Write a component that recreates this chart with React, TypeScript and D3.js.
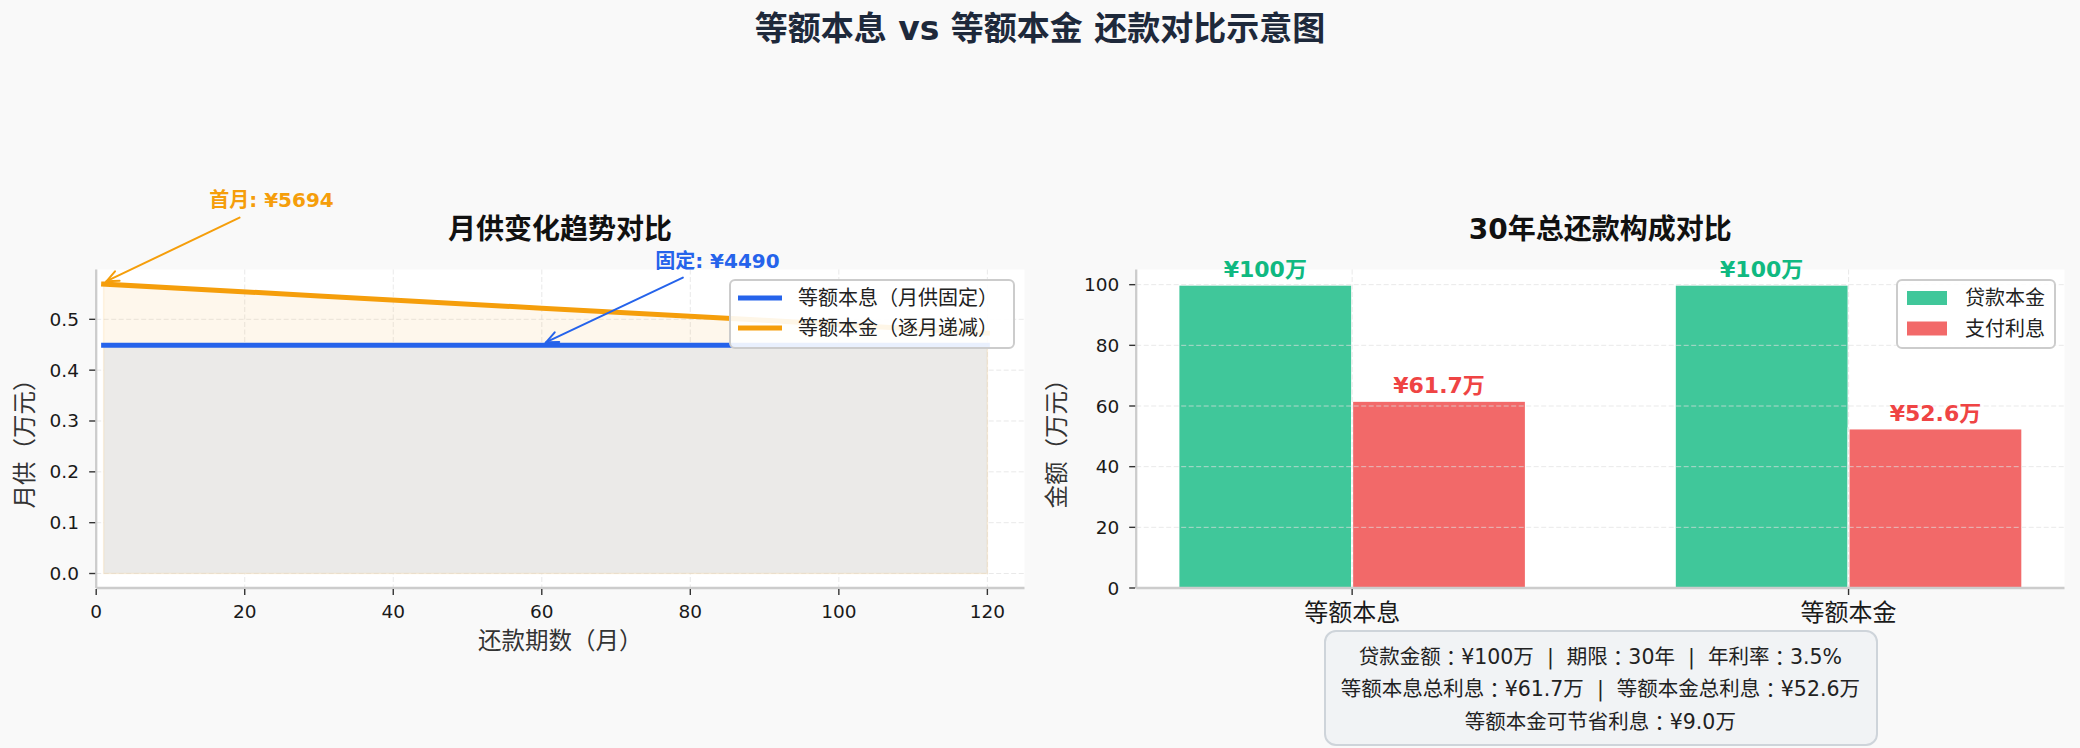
import React from 'react';
import * as d3 from 'd3';

// ---- data ----
const months = [1, 30, 60, 90, 120];
const equalInstallment = [0.449, 0.449, 0.449, 0.449, 0.449]; // 等额本息, 万元
const equalPrincipal = [0.5694, 0.546, 0.522, 0.498, 0.473]; // 等额本金, 万元

const categories = ['等额本息', '等额本金'];
const principalPaid = [100, 100];
const interestPaid = [61.7, 52.6];

const lineXTicks = [0, 20, 40, 60, 80, 100, 120];
const lineYTicks = [0, 0.1, 0.2, 0.3, 0.4, 0.5];
const barYTicks = [0, 20, 40, 60, 80, 100];

const infoLines = [
  '贷款金额：¥100万  |  期限：30年  |  年利率：3.5%',
  '等额本息总利息：¥61.7万  |  等额本金总利息：¥52.6万',
  '等额本金可节省利息：¥9.0万',
];

const W = 2080;
const H = 748;
const FONT = "'DejaVu Sans', 'Noto Sans CJK SC', sans-serif";
const COLON_FONT = "'Noto Sans CJK JP', 'Noto Sans CJK SC', sans-serif";
const BLUE = '#2563eb';
const ORANGE = '#f59e0b';
const GREEN = '#10b981';
const RED = '#ef4444';

const TOP = 269.5;
const BOTTOM = 588;

// left panel
const L = { x0: 96.2, x1: 1024.5 };
// right panel
const R = { x0: 1136.2, x1: 2064.5 };

const Arrow = ({ x1, y1, x2, y2, color }: { x1: number; y1: number; x2: number; y2: number; color: string }) => {
  const ang = Math.atan2(y2 - y1, x2 - x1);
  const len = 13;
  const spread = 0.42;
  const hx1 = x2 - len * Math.cos(ang - spread);
  const hy1 = y2 - len * Math.sin(ang - spread);
  const hx2 = x2 - len * Math.cos(ang + spread);
  const hy2 = y2 - len * Math.sin(ang + spread);
  return (
    <g stroke={color} strokeWidth={2} fill="none" strokeLinecap="round">
      <line x1={x1} y1={y1} x2={x2} y2={y2} />
      <polyline points={`${hx1},${hy1} ${x2},${y2} ${hx2},${hy2}`} />
    </g>
  );
};

// full-width colons are centred in the reference font
const withColons = (s: string) =>
  s.split('：').map((part, i, arr) => (
    <React.Fragment key={i}>
      {part}
      {i < arr.length - 1 && <tspan fontFamily={COLON_FONT}>：</tspan>}
    </React.Fragment>
  ));

export default function App() {
  // ---- scales ----
  const x = d3.scaleLinear().domain([0, 125]).range([L.x0, L.x1]);
  const y = d3.scaleLinear().domain([-0.0285, 0.598]).range([BOTTOM, TOP]);
  const bx = d3.scaleLinear().domain([-0.435, 1.435]).range([R.x0, R.x1]);
  const by = d3.scaleLinear().domain([0, 105]).range([BOTTOM, TOP]);
  const barW = 0.35;

  const lineOf = (vals: number[]) =>
    d3.line<number>().x((_, i) => x(months[i])).y((v) => y(v))(vals) || '';
  const areaOf = (vals: number[]) =>
    d3
      .area<number>()
      .x((_, i) => x(months[i]))
      .y0(y(0))
      .y1((v) => y(v))(vals) || '';

  // annotation anchors in data space
  const firstTxt = { x: x(23.6), y: y(0.734) };
  const firstFrom = { x: x(19.3), y: y(0.7) };
  const firstTo = { x: x(1.4), y: y(0.575) };
  const fixTxt = { x: x(83.65), y: y(0.615) };
  const fixFrom = { x: x(79.0), y: y(0.582) };
  const fixTo = { x: x(60.6), y: y(0.455) };

  const tickColor = '#333';
  const spineColor = '#cccccc';

  return (
    <svg
      width={W}
      height={H}
      viewBox={`0 0 ${W} ${H}`}
      style={{ position: 'absolute', left: 0, top: 0, fontFamily: FONT }}
    >
      <rect x={0} y={0} width={W} height={H} fill="#f9f9f9" />

      {/* main title */}
      <text x={W / 2} y={28} textAnchor="middle" dominantBaseline="central" fontSize={33} fontWeight={700} fill="#1e293b">
        等额本息 vs 等额本金 还款对比示意图
      </text>

      {/* ================= left panel ================= */}
      <rect x={L.x0} y={TOP} width={L.x1 - L.x0} height={BOTTOM - TOP} fill="#ffffff" />
      <g stroke="#e0e0e0" strokeOpacity={0.7} strokeWidth={1} strokeDasharray="5,2.5">
        {lineXTicks.map((t) => (
          <line key={'gx' + t} x1={x(t)} x2={x(t)} y1={TOP} y2={BOTTOM} />
        ))}
        {lineYTicks.map((t) => (
          <line key={'gy' + t} x1={L.x0} x2={L.x1} y1={y(t)} y2={y(t)} />
        ))}
      </g>
      <path d={areaOf(equalPrincipal)} fill={ORANGE} fillOpacity={0.08} />
      <path d={areaOf(equalInstallment)} fill="#ebeae8" />
      <path d={areaOf(equalPrincipal)} fill="none" stroke={ORANGE} strokeOpacity={0.1} strokeWidth={1.5} />
      <path d={lineOf(equalInstallment)} fill="none" stroke={BLUE} strokeWidth={5} strokeLinecap="square" />
      <path d={lineOf(equalPrincipal)} fill="none" stroke={ORANGE} strokeWidth={5} strokeLinecap="square" />

      {/* spines */}
      <line x1={L.x0} x2={L.x0} y1={TOP} y2={BOTTOM} stroke={spineColor} strokeWidth={2.3} />
      <line x1={L.x0} x2={L.x1} y1={BOTTOM} y2={BOTTOM} stroke={spineColor} strokeWidth={2.3} />

      {/* ticks */}
      {lineXTicks.map((t) => (
        <g key={'tx' + t}>
          <line x1={x(t)} x2={x(t)} y1={BOTTOM + 1} y2={BOTTOM + 7} stroke={tickColor} strokeWidth={1.4} />
          <text x={x(t)} y={611.5} textAnchor="middle" dominantBaseline="central" fontSize={18.5} fill="#1a1a1a">
            {t}
          </text>
        </g>
      ))}
      {lineYTicks.map((t) => (
        <g key={'ty' + t}>
          <line x1={L.x0 - 7} x2={L.x0 - 1} y1={y(t)} y2={y(t)} stroke={tickColor} strokeWidth={1.4} />
          <text x={79} y={y(t)} textAnchor="end" dominantBaseline="central" fontSize={18.5} fill="#1a1a1a">
            {t.toFixed(1)}
          </text>
        </g>
      ))}

      <text x={(L.x0 + L.x1) / 2} y={641} textAnchor="middle" dominantBaseline="central" fontSize={23.5} fill="#333">
        还款期数（月）
      </text>
      <text transform="translate(25,438) rotate(-90)" textAnchor="middle" dominantBaseline="central" fontSize={23.5} fill="#333">
        月供（万元）
      </text>
      <text x={560} y={229} textAnchor="middle" dominantBaseline="central" fontSize={28} fontWeight={700} fill="#111">
        月供变化趋势对比
      </text>

      {/* legend left */}
      <g>
        <rect x={730} y={280} width={284} height={68} rx={5} fill="#ffffff" fillOpacity={0.9} stroke="#cccccc" strokeWidth={2} />
        <line x1={738} x2={782} y1={298} y2={298} stroke={BLUE} strokeWidth={5} />
        <line x1={738} x2={782} y1={328} y2={328} stroke={ORANGE} strokeWidth={5} />
        <text x={798} y={298} dominantBaseline="central" fontSize={20} fill="#222">等额本息（月供固定）</text>
        <text x={798} y={328} dominantBaseline="central" fontSize={20} fill="#222">等额本金（逐月递减）</text>
      </g>

      {/* annotations */}
      <Arrow x1={firstFrom.x} y1={firstFrom.y} x2={firstTo.x} y2={firstTo.y} color={ORANGE} />
      <text x={firstTxt.x} y={firstTxt.y} textAnchor="middle" dominantBaseline="central" fontSize={20} fontWeight={700} fill={ORANGE}>
        首月: ¥5694
      </text>
      <Arrow x1={fixFrom.x} y1={fixFrom.y} x2={fixTo.x} y2={fixTo.y} color={BLUE} />
      <text x={fixTxt.x} y={fixTxt.y} textAnchor="middle" dominantBaseline="central" fontSize={20} fontWeight={700} fill={BLUE}>
        固定: ¥4490
      </text>

      {/* ================= right panel ================= */}
      <rect x={R.x0} y={TOP} width={R.x1 - R.x0} height={BOTTOM - TOP} fill="#ffffff" />
      {categories.map((c, i) => (
        <g key={'bar' + c}>
          <rect
            x={bx(i - barW)}
            y={by(principalPaid[i])}
            width={bx(i) - bx(i - barW)}
            height={by(0) - by(principalPaid[i])}
            fill={GREEN}
            fillOpacity={0.8}
            stroke="#ffffff"
            strokeWidth={2}
          />
          <rect
            x={bx(i)}
            y={by(interestPaid[i])}
            width={bx(i + barW) - bx(i)}
            height={by(0) - by(interestPaid[i])}
            fill={RED}
            fillOpacity={0.8}
            stroke="#ffffff"
            strokeWidth={2}
          />
        </g>
      ))}
      <g stroke="#e0e0e0" strokeOpacity={0.7} strokeWidth={1} strokeDasharray="5,2.5">
        {barYTicks.map((t) => (
          <line key={'bgy' + t} x1={R.x0} x2={R.x1} y1={by(t)} y2={by(t)} />
        ))}
        {categories.map((c, i) => (
          <line key={'bgx' + c} x1={bx(i)} x2={bx(i)} y1={TOP} y2={BOTTOM} />
        ))}
      </g>
      {categories.map((c, i) => (
        <g key={'lab' + c}>
          <text x={bx(i - barW / 2)} y={by(principalPaid[i]) - 15} textAnchor="middle" dominantBaseline="central" fontSize={22} fontWeight={700} fill={GREEN}>
            ¥{principalPaid[i]}万
          </text>
          <text x={bx(i + barW / 2)} y={by(interestPaid[i]) - 15} textAnchor="middle" dominantBaseline="central" fontSize={22} fontWeight={700} fill={RED}>
            ¥{interestPaid[i].toFixed(1)}万
          </text>
        </g>
      ))}

      <line x1={R.x0} x2={R.x0} y1={TOP} y2={BOTTOM} stroke={spineColor} strokeWidth={2.3} />
      <line x1={R.x0} x2={R.x1} y1={BOTTOM} y2={BOTTOM} stroke={spineColor} strokeWidth={2.3} />

      {categories.map((c, i) => (
        <g key={'bt' + c}>
          <line x1={bx(i)} x2={bx(i)} y1={BOTTOM + 1} y2={BOTTOM + 7} stroke={tickColor} strokeWidth={1.4} />
          <text x={bx(i)} y={613} textAnchor="middle" dominantBaseline="central" fontSize={24} fill="#1a1a1a">
            {c}
          </text>
        </g>
      ))}
      {barYTicks.map((t) => (
        <g key={'bty' + t}>
          <line x1={R.x0 - 7} x2={R.x0 - 1} y1={by(t)} y2={by(t)} stroke={tickColor} strokeWidth={1.4} />
          <text x={R.x0 - 17} y={by(t)} textAnchor="end" dominantBaseline="central" fontSize={18.5} fill="#1a1a1a">
            {t}
          </text>
        </g>
      ))}

      <text transform="translate(1057,438) rotate(-90)" textAnchor="middle" dominantBaseline="central" fontSize={23.5} fill="#333">
        金额（万元）
      </text>
      <text x={(R.x0 + R.x1) / 2} y={229} textAnchor="middle" dominantBaseline="central" fontSize={28} fontWeight={700} fill="#111">
        30年总还款构成对比
      </text>

      {/* legend right */}
      <g>
        <rect x={1897} y={280} width={158} height={68} rx={5} fill="#ffffff" fillOpacity={0.9} stroke="#cccccc" strokeWidth={2} />
        <rect x={1907} y={291} width={40} height={14} fill={GREEN} fillOpacity={0.8} />
        <rect x={1907} y={321.5} width={40} height={14} fill={RED} fillOpacity={0.8} />
        <text x={1965} y={298} dominantBaseline="central" fontSize={20} fill="#222">贷款本金</text>
        <text x={1965} y={328.5} dominantBaseline="central" fontSize={20} fill="#222">支付利息</text>
      </g>

      {/* info box */}
      <rect x={1325} y={631} width={552} height={114} rx={11} fill="#f1f3f5" stroke="#ced4da" strokeWidth={2} />
      {infoLines.map((s, i) => (
        <text
          key={'info' + i}
          x={(R.x0 + R.x1) / 2}
          y={656.5 + i * 32.7}
          textAnchor="middle"
          dominantBaseline="central"
          fontSize={20.5}
          fill="#222"
          style={{ whiteSpace: 'pre' }}
        >
          {withColons(s)}
        </text>
      ))}
    </svg>
  );
}
